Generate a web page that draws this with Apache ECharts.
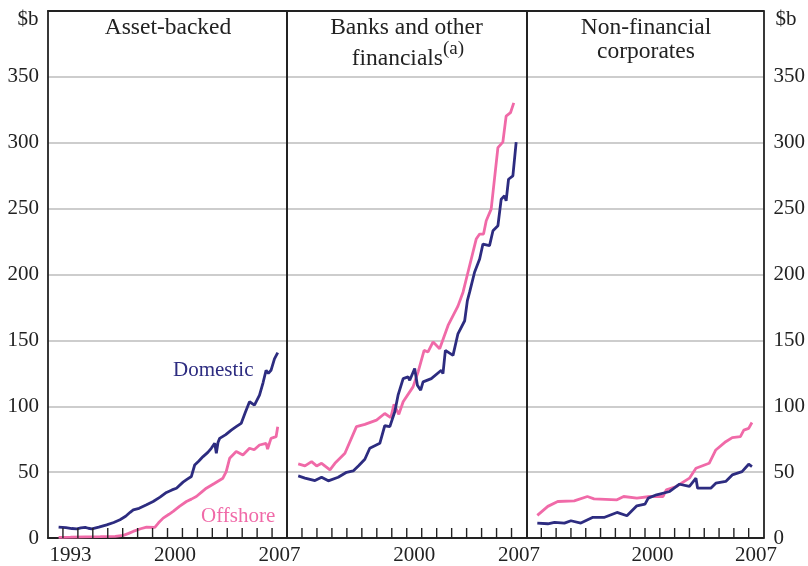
<!DOCTYPE html>
<html>
<head>
<meta charset="utf-8">
<script src="https://cdn.jsdelivr.net/npm/echarts@6/dist/echarts.min.js"></script>
<style>html,body{margin:0;padding:0;background:#fff}#c{width:808px;height:566px}</style>
</head>
<body>
<div id="c"></div>
<script>
// ---- data ----
const yearCats = ['1992','1993','1994','1995','1996','1997','1998','1999','2000','2001','2002','2003','2004','2005','2006','2007'];
const tickYears = [1993,1994,1995,1996,1997,1998,1999,2000,2001,2002,2003,2004,2005,2006,2007];
const yTicks = [0, 50, 100, 150, 200, 250, 300, 350];
const panelTitles = [['Asset-backed'], ['Banks and other', 'financials'], ['Non-financial', 'corporates']];

const abDomX = [1992.71,1993.2,1993.6,1993.93,1994.2,1994.49,1994.7,1994.93,1995.4,1995.93,1996.4,1996.82,1997.2,1997.5,1997.71,1998.1,1998.6,1999.04,1999.5,1999.93,2000.3,2000.6,2001.04,2001.3,2001.6,2001.82,2002.1,2002.38,2002.7,2002.93,2003.16,2003.27,2003.38,2003.49,2003.9,2004.27,2004.6,2004.93,2005.2,2005.49,2005.82,2006.16,2006.4,2006.6,2006.75,2006.93,2007.16,2007.25,2007.38];
const abDomY = [8.3,7.8,7.2,7.0,7.6,8.1,7.4,7.0,8.2,10,11.8,13.9,16.5,19.5,21.4,22.5,25.2,27.7,31,34.6,36.5,37.8,42.4,44.5,46.7,55.4,58.5,61.8,65,68.1,71.9,64.3,72.5,75.6,78.5,81.9,84.5,87,95,103.4,100.8,108.4,118,127.3,125,127.3,136,135,140.7];
const abOffX = [1992.71,1993.5,1994.5,1995.5,1996.5,1997.05,1997.4,1997.7,1998.2,1998.6,1999.15,1999.4,1999.71,2000.1,2000.38,2000.8,2001.27,2001.6,2001.93,2002.3,2002.6,2003.16,2003.71,2003.93,2004.16,2004.6,2005.05,2005.49,2005.8,2006.16,2006.6,2006.7,2006.93,2007.27,2007.38];
const abOffY = [0.5,0.6,0.8,1.0,1.3,2,3.5,5,7,8.3,8.1,11.5,15.1,18,20.2,24,27.7,29.5,31.5,35,37.8,41.6,45.4,50.4,60.5,65.6,63,68.1,67,70.6,71.9,67.5,75.6,76.9,84.5];

const bkDomX = [1992.75,1993.2,1993.87,1994.31,1994.76,1995.42,1995.98,1996.42,1996.8,1997.2,1997.53,1998.2,1998.53,1998.87,1999.2,1999.42,1999.76,2000.09,2000.2,2000.53,2000.71,2000.93,2001.09,2001.64,2002.31,2002.42,2002.58,2003.09,2003.42,2003.87,2004.05,2004.2,2004.53,2004.87,2005.09,2005.53,2005.76,2006.09,2006.31,2006.53,2006.64,2006.8,2007.09,2007.31];
const bkDomY = [47.1,45.5,43.6,46.1,43.4,46.1,49.9,50.9,55,59.8,68.1,71.9,85.2,84.5,95.8,108.4,121,122.3,119.7,128.6,116,112.2,118.5,121,127.3,124.8,142.4,138.6,155,164.9,180.2,186.6,201.7,211.8,223.1,221.9,233.2,237,257.2,259.7,255.9,272.3,274.8,300.5];
const bkOffX = [1992.75,1993.2,1993.64,1993.98,1994.31,1994.87,1995.2,1995.87,1996.64,1997.2,1997.98,1998.53,1998.93,1999.15,1999.47,1999.76,2000.42,2000.76,2001.16,2001.42,2001.76,2002.2,2002.76,2003.42,2003.76,2004.09,2004.64,2004.87,2005.13,2005.31,2005.64,2006.09,2006.42,2006.64,2006.93,2007.15];
const bkOffY = [56.2,54.7,58,54.7,56.7,51.7,56.7,64.3,84.5,86.2,89.5,94.5,91.3,101.4,93.8,103.4,114.7,126.1,142.4,141.2,148.8,143.7,161.3,176,186.6,201.7,226.9,230.7,230.7,240.8,249.6,296.3,300.5,320.2,322.8,330.3];

const nfDomX = [1992.73,1993.44,1993.89,1994.56,1995,1995.67,1996.45,1997.23,1998.11,1998.78,1999.45,2000,2000.22,2000.78,2001.67,2002.33,2003,2003.44,2003.55,2004.44,2004.78,2005.45,2005.89,2006.55,2007,2007.22];
const nfDomY = [11.3,10.8,11.9,11.3,13.1,11.3,15.6,15.6,19.4,16.9,24.4,25.7,30.3,32.8,35.3,40.8,39.1,45.4,37.8,37.8,41.6,42.9,47.9,50.4,56,54.2];
const nfOffX = [1992.73,1993.44,1994.11,1995.22,1996.11,1996.56,1998.11,1998.56,1999.45,2000.34,2001.22,2001.44,2002.11,2003,2003.44,2004.33,2004.78,2005.45,2005.89,2006.44,2006.67,2007,2007.22];
const nfOffY = [17.2,24,27.7,28.2,31.5,29.7,29,31.5,30.3,31.5,31.5,36.5,39.1,45.4,52.9,56.7,66.8,73.1,76.2,76.9,81.9,83.2,87.7];

// ---- chart ----
const NAVY = '#2d2c80', PINK = '#f06aa8', INK = '#222';
const FONT = '"Liberation Serif", "Times New Roman", serif';
const pair = (xs, ys) => xs.map((x, i) => [x, ys[i]]);

const grids = [
  {left: 48, top: 11, width: 239, height: 529},
  {left: 287, top: 11, width: 239.5, height: 529},
  {left: 526.5, top: 11, width: 239, height: 529}
];

const shownLabels = [['1993','2000','2007'], ['2000','2007'], ['2000','2007']];
const LINE = {show: true, onZero: false, lineStyle: {color: INK, width: 1.8}};
const xAxis = [], yAxis = [];
for (let i = 0; i < 3; i++) {
  xAxis.push({
    type: 'category', gridIndex: i, data: yearCats, boundaryGap: true, position: 'bottom',
    axisLine: {show: false}, axisTick: {show: false},
    axisLabel: {show: true, interval: 0, margin: 7, color: INK, fontFamily: FONT, fontSize: 21,
      formatter: v => shownLabels[i].includes(v) ? v : ''},
    splitLine: {show: false}
  });
  xAxis.push({
    type: 'value', gridIndex: i, min: 1992, max: 2008, interval: 1, position: 'bottom',
    axisLine: LINE, axisTick: {show: false}, axisLabel: {show: false}, splitLine: {show: false}
  });
  xAxis.push({
    type: 'value', gridIndex: i, min: 1992, max: 2008, position: 'top',
    axisLine: LINE, axisTick: {show: false}, axisLabel: {show: false}, splitLine: {show: false}
  });
  yAxis.push({
    type: 'value', gridIndex: i, min: 0, max: 400, interval: 50, position: 'left',
    axisLine: LINE, axisTick: {show: false},
    axisLabel: {show: i === 0, margin: 9, color: INK, fontFamily: FONT, fontSize: 21,
      formatter: v => yTicks.includes(v) ? String(v) : ''},
    splitLine: {show: true, lineStyle: {color: '#bdbdbd', width: 1.5}}
  });
  yAxis.push({
    type: 'value', gridIndex: i, min: 0, max: 400, interval: 50, position: 'right',
    axisLine: LINE, axisTick: {show: false},
    axisLabel: {show: i === 2, margin: 10, color: INK, fontFamily: FONT, fontSize: 21,
      formatter: v => yTicks.includes(v) ? String(v) : ''},
    splitLine: {show: false}
  });
}

function line(name, data, grid, color) {
  return {name, type: 'line', xAxisIndex: grid * 3 + 1, yAxisIndex: grid * 2, data, showSymbol: false,
    symbol: 'none', lineStyle: {color, width: 2.8}, itemStyle: {color}, z: 3};
}
function ticks(grid) {
  return {type: 'custom', name: 'ticks' + grid, xAxisIndex: grid * 3 + 1, yAxisIndex: grid * 2,
    clip: false, silent: true, z: 20,
    data: tickYears.map(y => [y, 0]),
    renderItem: (params, api) => {
      const p = api.coord([api.value(0), api.value(1)]);
      return {type: 'rect', shape: {x: p[0] - 0.7, y: p[1] - 10, width: 1.4, height: 10},
        style: {fill: INK}};
    }};
}
const series = [
  line('Domestic', pair(abDomX, abDomY), 0, NAVY),
  line('Offshore', pair(abOffX, abOffY), 0, PINK),
  line('Offshore', pair(bkOffX, bkOffY), 1, PINK),
  line('Domestic', pair(bkDomX, bkDomY), 1, NAVY),
  line('Offshore', pair(nfOffX, nfOffY), 2, PINK),
  line('Domestic', pair(nfDomX, nfDomY), 2, NAVY),
  ticks(0), ticks(1), ticks(2)
];

const T = (text, x, y, extra) => ({type: 'text', x, y, z: 10,
  style: Object.assign({text, fill: INK, font: '23.5px ' + FONT, textAlign: 'center', textVerticalAlign: 'middle'}, extra || {})});

const graphic = [
  T('$b', 28, 19, {font: '21px ' + FONT}),
  T('$b', 786, 19, {font: '21px ' + FONT}),
  T(panelTitles[0][0], 168, 28),
  T(panelTitles[1][0], 406.5, 28),
  T(panelTitles[1][1], 443, 59, {textAlign: 'right'}),
  T('(a)', 443, 49, {textAlign: 'left', font: '19px ' + FONT}),
  T(panelTitles[2][0], 646, 28),
  T(panelTitles[2][1], 646, 52),
  T('Domestic', 173, 370, {textAlign: 'left', fill: NAVY, font: '21px ' + FONT}),
  T('Offshore', 201, 516, {textAlign: 'left', fill: PINK, font: '21px ' + FONT})
];

const chart = echarts.init(document.getElementById('c'), null, {renderer: 'canvas'});
chart.setOption({animation: false, backgroundColor: '#fff', grid: grids, xAxis, yAxis, series, graphic});
</script>
</body>
</html>
